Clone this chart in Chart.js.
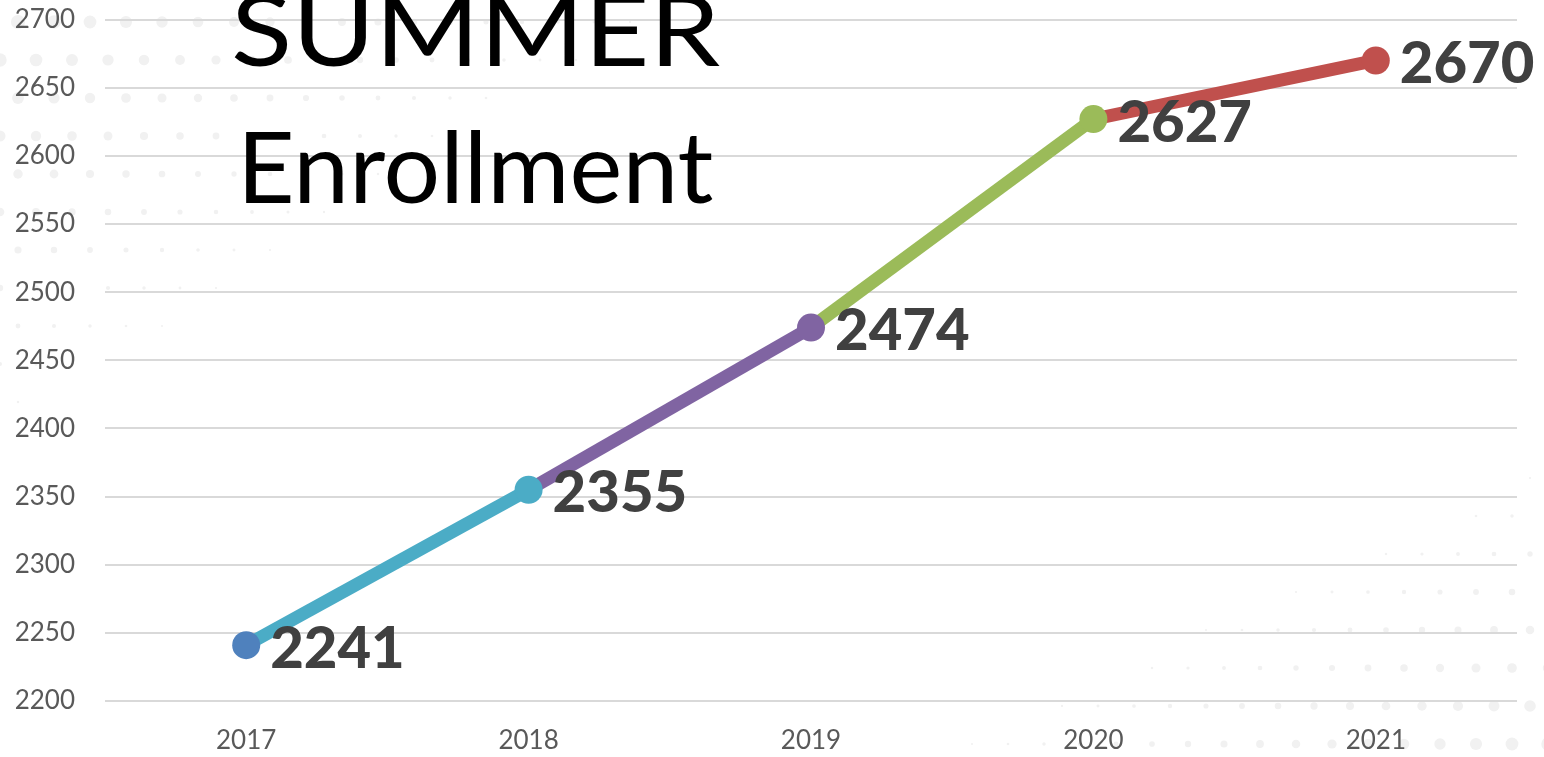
<!DOCTYPE html>
<html lang="en">
<head>
    <meta charset="UTF-8">
    <title>Summer Enrollment</title>
    <script src="https://cdn.jsdelivr.net/npm/chart.js"></script>
    <style>
        html, body { margin: 0; padding: 0; background: #fff; }
        #wrap { position: relative; width: 1544px; height: 757px; overflow: hidden; }
        #enrollChart { position: absolute; left: 0; top: -26px; }
        .ttl { position: absolute; font-family: Lato, sans-serif; color: #000; white-space: nowrap; line-height: 1; transform-origin: left top; }
        #t1 { left: 231px; top: -21px; font-size: 98px; transform: scaleX(1.15); }
        #t2 { left: 237px; top: 115px; font-size: 99px; transform: scaleX(1.01); }
    </style>
</head>
<body>
<div id="wrap">
    <canvas id="enrollChart" width="1544" height="783"></canvas>
    <div class="ttl" id="t1">SUMMER</div>
    <div class="ttl" id="t2">Enrollment</div>
</div>
<script>
    const years = ['2017', '2018', '2019', '2020', '2021'];
    const enrollment = [2241, 2355, 2474, 2627, 2670];
    const pointColors = ['#4f81bd', '#4bacc6', '#8064a2', '#9bbb59', '#c0504d'];
    const yMin = 2200, yMax = 2700, yStep = 50;

    // faint dotted backdrop in the corners
    const dotBackdrop = {
        id: 'dotBackdrop',
        beforeDraw(chart) {
            const ctx = chart.ctx;
            const W = chart.width, H = chart.height;
            ctx.save();
            ctx.fillStyle = '#f1f1f1';
            let row = 0;
            for (let y = 10; y < H + 20; y += 38, row++) {
                for (let x = (row % 2) * 18; x < W + 20; x += 36) {
                    const d1 = x / 820 + y / 520;
                    const d2 = (W - x) / 700 + (H - y) / 340;
                    const r = Math.max(8 * (1 - d1), 7 * (1 - d2));
                    if (r > 1) {
                        ctx.beginPath();
                        ctx.arc(x, y, r, 0, Math.PI * 2);
                        ctx.fill();
                    }
                }
            }
            ctx.restore();
        }
    };

    // data labels to the right of each point
    const valueLabels = {
        id: 'valueLabels',
        afterDatasetsDraw(chart) {
            const ctx = chart.ctx;
            const meta = chart.getDatasetMeta(0);
            ctx.save();
            ctx.font = '900 58px Lato, sans-serif';
            ctx.fillStyle = '#404040';
            ctx.textAlign = 'left';
            ctx.textBaseline = 'middle';
            meta.data.forEach((pt, i) => {
                ctx.fillText(String(enrollment[i]), pt.x + 24, pt.y + 4);
            });
            ctx.restore();
        }
    };

    new Chart(document.getElementById('enrollChart'), {
        type: 'line',
        data: {
            labels: years,
            datasets: [{
                data: enrollment,
                borderWidth: 13,
                pointRadius: 14,
                pointHoverRadius: 14,
                pointBackgroundColor: pointColors,
                pointBorderWidth: 0,
                segment: {
                    borderColor: c => pointColors[c.p1DataIndex]
                }
            }]
        },
        options: {
            responsive: false,
            animation: false,
            layout: { autoPadding: false, padding: { top: 6, right: 27, left: 0, bottom: 0 } },
            plugins: { legend: { display: false }, tooltip: { enabled: false } },
            scales: {
                x: {
                    offset: true,
                    grid: { display: false },
                    border: { display: false },
                    ticks: { color: '#595959', font: { family: 'Lato, sans-serif', size: 26 }, padding: 16 },
                    afterFit: s => { s.height = 56; }
                },
                y: {
                    min: yMin,
                    max: yMax,
                    border: { display: false },
                    grid: { color: '#d9d9d9', lineWidth: 2, drawTicks: false },
                    ticks: {
                        stepSize: yStep,
                        color: '#595959',
                        font: { family: 'Lato, sans-serif', size: 26 },
                        padding: 30,
                        callback: v => String(v)
                    },
                    afterFit: s => { s.width = 105; }
                }
            }
        },
        plugins: [dotBackdrop, valueLabels]
    });
</script>
</body>
</html>
